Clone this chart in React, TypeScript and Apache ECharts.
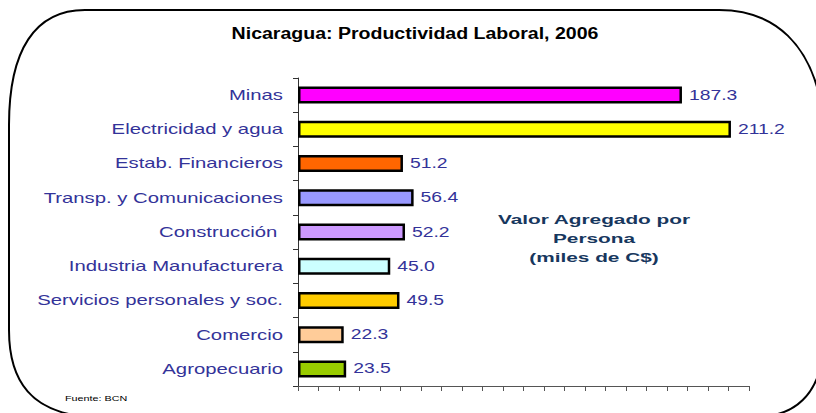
import React, { useEffect, useRef } from "react";
import * as echarts from "echarts";

const categories = [
  "Minas",
  "Electricidad y agua",
  "Estab. Financieros",
  "Transp. y Comunicaciones",
  "Construcción ",
  "Industria Manufacturera",
  "Servicios personales y soc.",
  "Comercio",
  "Agropecuario",
];
const values = [187.3, 211.2, 51.2, 56.4, 52.2, 45.0, 49.5, 22.3, 23.5];
const colors = [
  "#FF00FF",
  "#FFFF00",
  "#FF6600",
  "#9999FF",
  "#CC99FF",
  "#CCFFFF",
  "#FFCC00",
  "#FFCC99",
  "#99CC00",
];
const titleText = "Nicaragua: Productividad Laboral, 2006";
const noteLines = ["Valor Agregado por", "Persona", "(miles de C$)"];
const sourceText = "Fuente: BCN";

const framePath =
  "M 9 125 C 9 50 35 10 85 10 L 719 10 C 775 10 812 45 822 110 L 822 360 C 816 395 795 413 767 416 L 80 416 C 35 410 9 385 9 330 Z";
let registered = false;

export default function App() {
  const ref = useRef<HTMLDivElement>(null);
  useEffect(() => {
    if (!ref.current) return;
    if (!registered) {
      echarts.graphic.registerShape("frame", echarts.graphic.extendPath(framePath, {}));
      registered = true;
    }
    const chart = echarts.init(ref.current, undefined, { renderer: "svg" });
    const font = "'Liberation Sans', Arial, sans-serif";
    const labelColor = "#333399";
    chart.setOption({
      animation: false,
      backgroundColor: "#ffffff",
      grid: { left: 298, right: 67, top: 78, bottom: 27, containLabel: false },
      xAxis: {
        type: "value",
        min: 0,
        max: 220,
        interval: 10,
        axisLine: { show: true, lineStyle: { color: "#555", width: 1 } },
        axisTick: { show: true, length: 5, lineStyle: { color: "#555" } },
        axisLabel: { show: false },
        splitLine: { show: false },
      },
      yAxis: {
        type: "category",
        data: categories,
        inverse: true,
        axisLine: { show: true, lineStyle: { color: "#333", width: 1 } },
        axisTick: { show: true, length: 5, lineStyle: { color: "#333" } },
        axisLabel: { show: false },
      },
      series: [
        {
          type: "bar",
          barWidth: 17,
          data: values.map((v, i) => ({
            value: v,
            itemStyle: { color: colors[i], borderColor: "#000", borderWidth: 2.5 },
          })),
          label: { show: false },
        },
      ],
    });

    const graphics: any[] = [
      {
        type: "frame",
        x: 0,
        y: 0,
        scaleX: 1,
        scaleY: 1,
        style: { fill: "none", stroke: "#000", lineWidth: 2 },
        silent: true,
        z: 100,
      },
      {
        type: "text",
        x: 415,
        y: 33,
        scaleX: 1.15,
        style: {
          text: titleText,
          fontFamily: font,
          fontSize: 17,
          fontWeight: "bold",
          fill: "#000",
          align: "center",
          verticalAlign: "middle",
        },
      },
      {
        type: "text",
        x: 65,
        y: 398,
        scaleX: 1.35,
        style: {
          text: sourceText,
          fontFamily: font,
          fontSize: 8,
          fill: "#000",
          align: "left",
          verticalAlign: "middle",
        },
      },
    ];
    const noteY = [220, 239, 258];
    noteLines.forEach((t, i) => {
      graphics.push({
        type: "text",
        x: 594,
        y: noteY[i],
        scaleX: 1.6,
        style: {
          text: t,
          fontFamily: font,
          fontSize: 13,
          fontWeight: "bold",
          fill: "#17375E",
          align: "center",
          verticalAlign: "middle",
        },
      });
    });
    categories.forEach((c, i) => {
      const py = chart.convertToPixel({ yAxisIndex: 0 }, c) as number;
      graphics.push({
        type: "text",
        x: 283,
        y: py,
        scaleX: 1.4,
        style: {
          text: c,
          fontFamily: font,
          fontSize: 14.5,
          fill: labelColor,
          align: "right",
          verticalAlign: "middle",
        },
      });
      const pt = chart.convertToPixel({ gridIndex: 0 }, [values[i], i]) as number[];
      graphics.push({
        type: "text",
        x: pt[0] + 7,
        y: pt[1],
        scaleX: 1.38,
        style: {
          text: values[i].toFixed(1),
          fontFamily: font,
          fontSize: 14,
          fill: labelColor,
          align: "left",
          verticalAlign: "middle",
        },
      });
    });
    chart.setOption({ graphic: graphics });
    return () => chart.dispose();
  }, []);
  return (
    <div
      ref={ref}
      style={{ position: "absolute", left: 0, top: 0, width: 816, height: 413 }}
    />
  );
}
